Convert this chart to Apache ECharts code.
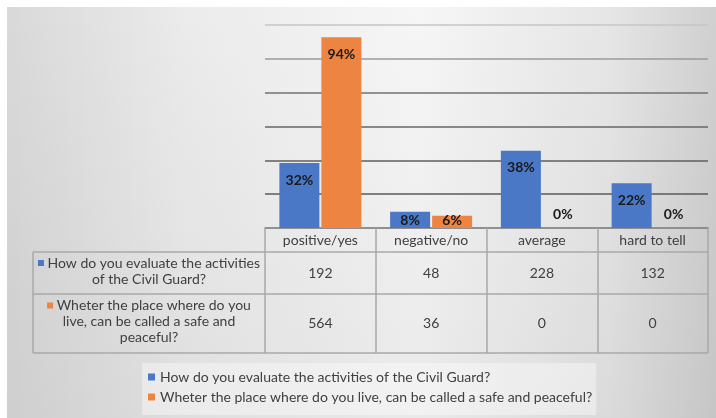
<!DOCTYPE html>
<html><head><meta charset="utf-8">
<script src="https://cdn.jsdelivr.net/npm/echarts@6/dist/echarts.min.js"></script>
<style>html,body{margin:0;padding:0;background:#fff}#c{width:716px;height:418px}</style>
</head><body><div id="c"></div>
<script>
// ---- data ----
const categories = ['positive/yes', 'negative/no', 'average', 'hard to tell'];
const seriesNames = [
  'How do you evaluate the activities of the Civil Guard?',
  'Wheter the place where do you live, can be called a safe and peaceful?'
];
const rowLabelLines = [
  ['How do you evaluate the activities', 'of the Civil Guard?'],
  ['Wheter the place where do you', 'live, can be called a safe and', 'peaceful?']
];
const civilGuard = [192, 48, 228, 132];
const safePlace = [564, 36, 0, 0];
const respondents = 600;
const yMin = 0, yMax = 600, yInterval = 100;

// ---- styles ----
const FONT = 'Lato';
const FS = 14;
const BLUE = '#4a78c6', ORANGE = '#ed8441';
const TEXT = '#404040';
const BORDER = '#a8a8a8';
const rowH = [24, 42, 59];
const tableLeft = 33;

function labelFor(v) {
  if (v === 0) return { position: 'top', distance: 7 };
  if (v < yInterval) return { position: 'insideBottom', distance: 1 };
  return { position: 'insideTop', distance: 10 };
}
const items = vals => vals.map(v => ({ value: v, label: labelFor(v) }));
const pct = p => Math.round(p.value / respondents * 100) + '%';

const barLabel = { show: true, formatter: pct, fontFamily: FONT, fontWeight: 'bold', fontSize: FS, color: '#1a1a1a' };

const chart = echarts.init(document.getElementById('c'), null, { renderer: 'canvas' });
chart.setOption({
  animation: false,
  backgroundColor: '#ffffff',
  grid: { left: 265, right: 8, top: 25, bottom: 190 },
  legend: {
    orient: 'vertical', left: 142, top: 363, height: 50,
    itemWidth: 7, itemHeight: 7, icon: 'rect', itemGap: 4,
    padding: [6, 4, 10, 6],
    backgroundColor: 'rgba(255,255,255,0.38)',
    textStyle: { fontFamily: FONT, fontSize: FS, color: TEXT, lineHeight: 16 },
    data: seriesNames
  },
  xAxis: {
    type: 'category', data: categories,
    axisLine: { lineStyle: { color: '#8a8a8a', width: 1.5 } },
    axisTick: { show: true, length: rowH[0] + rowH[1] + rowH[2], lineStyle: { color: BORDER, width: 1.5 } },
    axisLabel: {
      margin: 0, interval: 0,
      formatter: (val, idx) => `{h|${val}}\n{a|${civilGuard[idx]}}\n{b|${safePlace[idx]}}`,
      rich: {
        h: { lineHeight: rowH[0], fontFamily: FONT, fontSize: FS, color: TEXT },
        a: { lineHeight: rowH[1], fontFamily: FONT, fontSize: FS, color: TEXT },
        b: { lineHeight: rowH[2], fontFamily: FONT, fontSize: FS, color: TEXT }
      }
    }
  },
  yAxis: {
    type: 'value', min: yMin, max: yMax, interval: yInterval,
    axisLabel: { show: false }, axisLine: { show: false }, axisTick: { show: false },
    splitLine: { lineStyle: { width: 1.6, color: ['#888', '#5a5a5a', '#5e5e5e', '#666', '#727272', '#9a9a9a', '#c6c6c6'] } }
  },
  series: [
    { name: seriesNames[0], type: 'bar', data: items(civilGuard), barWidth: 40, barGap: '5%', itemStyle: { color: BLUE }, label: barLabel },
    { name: seriesNames[1], type: 'bar', data: items(safePlace), barWidth: 40, barGap: '5%', itemStyle: { color: ORANGE }, label: barLabel }
  ],
  graphic: [{
    id: 'bg', type: 'rect', z: -10, silent: true,
    shape: { x: 7, y: 7, width: 709, height: 411 },
    style: { fill: { type: 'linear', x: 0, y: 0, x2: 1, y2: 0, colorStops: [
      { offset: 0, color: '#d9d9d9' }, { offset: 0.25, color: '#ebebeb' }, { offset: 0.58, color: '#f6f6f6' },
      { offset: 0.85, color: '#e6e6e6' }, { offset: 1, color: '#d0d0d0' } ] } }
  }, {
    id: 'bg2', type: 'rect', z: -9, silent: true,
    shape: { x: 7, y: 7, width: 709, height: 411 },
    style: { fill: { type: 'linear', x: 0, y: 0, x2: 0, y2: 1, colorStops: [
      { offset: 0, color: 'rgba(0,0,0,0)' }, { offset: 1, color: 'rgba(0,0,0,0.05)' } ] } }
  }]
});

// ---- data table (positions derived from the axes) ----
const y0 = chart.convertToPixel({ yAxisIndex: 0 }, yMin);
const c0 = chart.convertToPixel({ xAxisIndex: 0 }, 0);
const c1 = chart.convertToPixel({ xAxisIndex: 0 }, 1);
const band = c1 - c0;
const gLeft = c0 - band / 2;
const gRight = gLeft + band * categories.length;
const yRow1 = y0 + rowH[0], yRow2 = yRow1 + rowH[1], yEnd = yRow2 + rowH[2];
const lineStyle = { stroke: BORDER, lineWidth: 1.5 };
const tbl = [];
[yRow1, yRow2, yEnd].forEach((y, i) => tbl.push({ id: 'h' + i, type: 'line', silent: true, shape: { x1: tableLeft, y1: y, x2: gRight, y2: y }, style: lineStyle }));
tbl.push({ id: 'vl', type: 'line', silent: true, shape: { x1: tableLeft, y1: yRow1, x2: tableLeft, y2: yEnd }, style: lineStyle });
const colors = [BLUE, ORANGE];
const centers = [(yRow1 + yRow2) / 2 - 2, (yRow2 + yEnd) / 2 - 2];
rowLabelLines.forEach((lines, i) => {
  const txt = lines.map((l, j) => j === 0 ? `{m|}{t| ${l}}` : `{t|${l}}`).join('\n');
  tbl.push({
    id: 'rl' + i, type: 'text', silent: true,
    x: (tableLeft + gLeft) / 2, y: centers[i],
    style: {
      text: txt, align: 'center', verticalAlign: 'middle',
      rich: {
        m: { width: 6, height: 6, backgroundColor: colors[i] },
        t: { fontFamily: FONT, fontSize: FS, fill: TEXT, lineHeight: 16 }
      }
    }
  });
});
chart.setOption({ graphic: tbl });
</script></body></html>
